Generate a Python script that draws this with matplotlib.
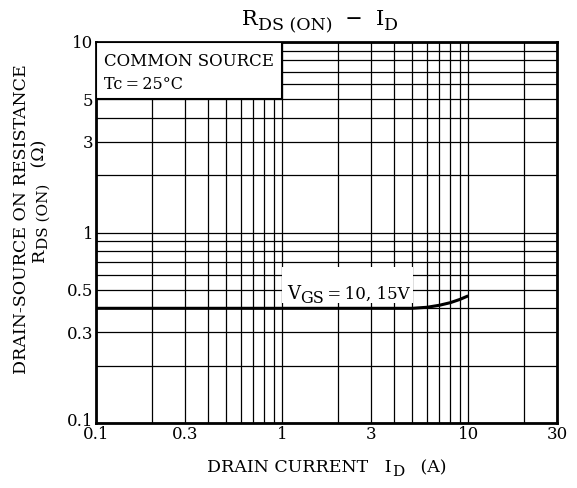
import matplotlib
matplotlib.use("Agg")
import matplotlib.pyplot as plt
from matplotlib.patches import Rectangle
from matplotlib.transforms import IdentityTransform, ScaledTranslation

plt.rcParams['font.family'] = ['DejaVu Serif']

W, H = 577, 488

# data
id_a = [0.1, 0.3, 1, 3, 5, 6, 7, 8, 9, 10]
rds = [0.40, 0.40, 0.40, 0.40, 0.40, 0.405, 0.415, 0.428, 0.445, 0.465]

xticks = [0.1, 0.3, 1, 3, 10, 30]
xticklabels = ['0.1', '0.3', '1', '3', '10', '30']
yticks = [0.1, 0.3, 0.5, 1, 3, 5, 10]
yticklabels = ['0.1', '0.3', '0.5', '1', '3', '5', '10']

fig = plt.figure(figsize=(W / 100, H / 100), dpi=100)
ax = fig.add_axes([96 / W, 65 / H, 461 / W, 381 / H])
ax.set_xscale('log')
ax.set_yscale('log')
ax.set_xlim(0.1, 30)
ax.set_ylim(0.1, 10)

# grid
xg = [m * 10.0**e for e in (-1, 0, 1) for m in range(1, 10) if m * 10.0**e <= 30]
yg = [m * 10.0**e for e in (-1, 0) for m in range(1, 10)] + [10]
for v in xg:
    ax.axvline(v, color='black', lw=0.9, zorder=1)
for v in yg:
    ax.axhline(v, color='black', lw=0.9, zorder=1)

ax.plot(id_a, rds, color='black', lw=2.2, zorder=3, solid_capstyle='butt')

ax.set_xticks(xticks)
ax.set_xticklabels(xticklabels)
ax.set_yticks(yticks)
ax.set_yticklabels(yticklabels)
ax.minorticks_off()
ax.tick_params(length=0, labelsize=12, pad=2)
for s in ax.spines.values():
    s.set_linewidth(2)

# condition box
ax.add_patch(Rectangle((0.1, 5.0), 0.9, 5.0, facecolor='white', edgecolor='black',
                       lw=1.5, zorder=4))
ax.text(0.11, 7.9, 'COMMON SOURCE', fontsize=12, va='center', ha='left', zorder=5)
ax.text(0.11, 6.0, 'Tc\u2009=\u200925°C', fontsize=11.5, va='center', ha='left', zorder=5)

# curve label background
ax.add_patch(Rectangle((1.0, 0.425), 4.05, 0.235, facecolor='white', edgecolor='none', zorder=4))

fig.canvas.draw()
renderer = fig.canvas.get_renderer()

# lift the bottom y tick label slightly, as in the original
lab0 = ax.yaxis.get_major_ticks()[0].label1
lab0.set_transform(lab0.get_transform() + ScaledTranslation(0, 4 / 100, fig.dpi_scale_trans))


def rich(cx, cy_top, segs, rotation=0, ha='center'):
    texts = []
    for s, size, sh in segs:
        t = fig.text(0, 0, s, fontsize=size, transform=IdentityTransform(),
                     ha='left', va='baseline', rotation=rotation,
                     rotation_mode='anchor', zorder=6)
        texts.append((t, sh))
    lens = []
    for t, sh in texts:
        bb = t.get_window_extent(renderer)
        lens.append(bb.height if rotation == 90 else bb.width)
    total = sum(lens)
    X, Y = cx, H - cy_top
    if rotation == 90:
        pos = Y - (total / 2 if ha == 'center' else 0)
        for (t, sh), L in zip(texts, lens):
            t.set_position((X + sh, pos))
            pos += L
    else:
        pos = X - (total / 2 if ha == 'center' else 0)
        for (t, sh), L in zip(texts, lens):
            t.set_position((pos, Y - sh))
            pos += L


# title
rich(320, 25, [('R', 15, 0), ('DS (ON)', 12.5, 5), ('  \u2212  ', 15, 0),
               ('I', 15, 0), ('D', 12.5, 5)])
# curve label
rich(287, 299, [('V', 13, 0), ('GS', 11.5, 4), ('\u2009=\u200910, 15V', 12, 0)], ha='left')
# x label
rich(327, 472, [('DRAIN CURRENT   I', 12.5, 0), ('D', 11, 4), ('   (A)', 12.5, 0)])
# y label
rich(26, 219, [('DRAIN-SOURCE ON RESISTANCE', 12.5, 0)], rotation=90)
rich(44, 201, [('R', 12.5, 0), ('DS (ON)', 11, 4), ('   (Ω)', 12.5, 0)], rotation=90)

fig.savefig('out.png', dpi=100, facecolor='white')
